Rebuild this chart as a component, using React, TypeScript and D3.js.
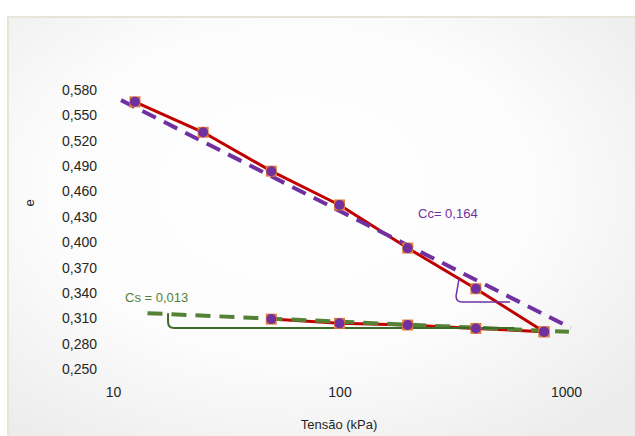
import React, { useEffect, useRef } from 'react';
import * as d3 from 'd3';

// tensão (kPa) e índice de vazios
const loadStress = [12.5, 25, 50, 100, 200, 400, 800];
const loadVoid = [0.566, 0.530, 0.484, 0.444, 0.393, 0.345, 0.294];
const unloadStress = [800, 400, 200, 100, 50];
const unloadVoid = [0.294, 0.298, 0.302, 0.304, 0.309];

// retas de ajuste (pontos extremos)
const ccTrendStress = [10.85, 1050];
const ccTrendVoid = [0.568, 0.2985];
const csTrendStress = [14.2, 1030];
const csTrendVoid = [0.316, 0.294];

// indicadores de inclinação: topo, canto, fim
const ccMarkStress = [337, 327, 566];
const ccMarkVoid = [0.3565, 0.3293, 0.3293];
const csMarkStress = [17.5, 17.5, 590];
const csMarkVoid = [0.316, 0.2985, 0.2985];

const yTicks = [0.25, 0.28, 0.31, 0.34, 0.37, 0.40, 0.43, 0.46, 0.49, 0.52, 0.55, 0.58];
const xTicks = [10, 100, 1000];

const W = 635;
const H = 436;
const FONT = '"Liberation Sans", Arial, sans-serif';

const App = () => {
    const svgRef = useRef<SVGSVGElement>(null);

    useEffect(() => {
        const svg = d3.select(svgRef.current);
        svg.selectAll('*').remove();

        const x = d3.scaleLog().domain([10, 1000]).range([113, 566]);
        const y = d3.scaleLinear().domain([0.25, 0.58]).range([369, 90]);

        // fundo
        const defs = svg.append('defs');
        const grad = defs.append('radialGradient').attr('id', 'bg')
            .attr('cx', '45%').attr('cy', '40%').attr('r', '70%');
        grad.append('stop').attr('offset', '0%').attr('stop-color', '#ffffff');
        grad.append('stop').attr('offset', '55%').attr('stop-color', '#fcfcfc');
        grad.append('stop').attr('offset', '100%').attr('stop-color', '#ececec');

        svg.append('rect').attr('width', W).attr('height', H).attr('fill', '#ffffff');
        svg.append('rect')
            .attr('x', 8).attr('y', 17).attr('width', W).attr('height', H)
            .attr('fill', 'url(#bg)')
            .attr('stroke', '#e8e4d8').attr('stroke-width', 2);

        // eixo y
        const yAxis = svg.append('g')
            .attr('transform', 'translate(97,0)')
            .call(d3.axisLeft(y).tickValues(yTicks).tickSize(0).tickPadding(0)
                .tickFormat(d => d3.format('.3f')(d as number).replace('.', ',')));
        yAxis.select('.domain').remove();
        yAxis.selectAll('text')
            .attr('font-family', FONT).attr('font-size', 14).attr('fill', '#262626');

        // eixo x
        const xAxis = svg.append('g')
            .attr('transform', 'translate(0,387)')
            .call(d3.axisBottom(x).tickValues(xTicks).tickSize(0).tickPadding(0)
                .tickFormat(d3.format('d')));
        xAxis.select('.domain').remove();
        xAxis.selectAll('text')
            .attr('font-family', FONT).attr('font-size', 14).attr('fill', '#262626');

        svg.append('text')
            .attr('x', 339).attr('y', 429)
            .attr('text-anchor', 'middle')
            .attr('font-family', FONT).attr('font-size', 13).attr('fill', '#262626')
            .text('Tensão (kPa)');

        svg.append('text')
            .attr('transform', 'translate(34,203) rotate(-90)')
            .attr('text-anchor', 'middle')
            .attr('font-family', FONT).attr('font-size', 13).attr('fill', '#262626')
            .text('e');

        // curva de compressão
        const pts = loadStress.map((s, i) => [s, loadVoid[i]])
            .concat(unloadStress.slice(1).map((s, i) => [s, unloadVoid[i + 1]]));
        const line = d3.line<number[]>().x(d => x(d[0])).y(d => y(d[1]));
        svg.append('path')
            .datum(pts)
            .attr('d', line)
            .attr('fill', 'none')
            .attr('stroke', '#c00000')
            .attr('stroke-width', 3)
            .attr('stroke-linejoin', 'round');

        // retas de ajuste
        svg.append('path')
            .datum(ccTrendStress.map((s, i) => [s, ccTrendVoid[i]]))
            .attr('d', line)
            .attr('fill', 'none')
            .attr('stroke', '#7030a0')
            .attr('stroke-width', 4)
            .attr('stroke-dasharray', '15 9');

        svg.append('path')
            .datum(csTrendStress.map((s, i) => [s, csTrendVoid[i]]))
            .attr('d', line)
            .attr('fill', 'none')
            .attr('stroke', '#548235')
            .attr('stroke-width', 4)
            .attr('stroke-dasharray', '15 9');

        // indicadores de inclinação
        const corner = (ss: number[], vv: number[]) => {
            const p = ss.map((s, i) => [x(s), y(vv[i])]);
            const r = 6;
            return `M${p[0][0]},${p[0][1]} L${p[1][0]},${p[1][1] - r} Q${p[1][0]},${p[1][1]} ${p[1][0] + r},${p[1][1]} L${p[2][0]},${p[2][1]}`;
        };
        svg.append('path')
            .attr('d', corner(ccMarkStress, ccMarkVoid))
            .attr('fill', 'none').attr('stroke', '#7030a0').attr('stroke-width', 1.5);
        svg.append('path')
            .attr('d', corner(csMarkStress, csMarkVoid))
            .attr('fill', 'none').attr('stroke', '#3f6b2a').attr('stroke-width', 2);

        // marcadores
        const allPts = loadStress.map((s, i) => [s, loadVoid[i]])
            .concat(unloadStress.map((s, i) => [s, unloadVoid[i]]));
        svg.append('g').selectAll('rect')
            .data(allPts)
            .enter()
            .append('rect')
            .attr('x', d => x(d[0]) - 5.5)
            .attr('y', d => y(d[1]) - 5.5)
            .attr('width', 11).attr('height', 11)
            .attr('fill', '#e07c3c');
        svg.append('g').selectAll('circle')
            .data(allPts)
            .enter()
            .append('circle')
            .attr('cx', d => x(d[0]))
            .attr('cy', d => y(d[1]))
            .attr('r', 5)
            .attr('fill', '#7030a0');

        // rótulos
        svg.append('text')
            .attr('x', 418).attr('y', 218)
            .attr('font-family', FONT).attr('font-size', 13).attr('fill', '#7030a0')
            .text('Cc= 0,164');
        svg.append('text')
            .attr('x', 125).attr('y', 302)
            .attr('font-family', FONT).attr('font-size', 13).attr('fill', '#548235')
            .text('Cs = 0,013');
    }, []);

    return (
        <div>
            <style>{'body{margin:0}'}</style>
            <svg ref={svgRef} width={W} height={H} style={{ display: 'block' }}></svg>
        </div>
    );
};

export default App;
